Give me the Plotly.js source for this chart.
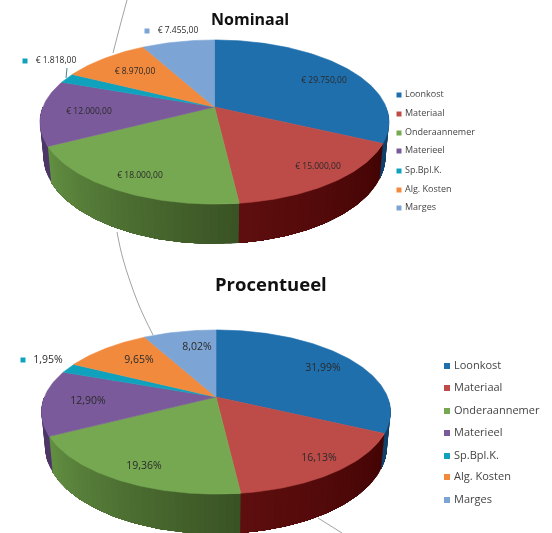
<!DOCTYPE html>
<html>
<head>
<meta charset="utf-8">
<script src="https://cdn.plot.ly/plotly-3.0.1.min.js"></script>
<style>
html,body{margin:0;padding:0;background:#fff}
#chart{width:552px;height:533px;filter:blur(0.45px)}
</style>
</head>
<body>
<div id="chart"></div>
<script>
// ---- data ----
const categories = ["Loonkost","Materiaal","Onderaannemer","Materieel","Sp.Bpl.K.","Alg. Kosten","Marges"];
const nominalValues = [29750,15000,18000,12000,1818,8970,7455];
const percentValues = [31.99,16.13,19.36,12.90,1.95,9.65,8.02];
const nominalLabels = ["€ 29.750,00","€ 15.000,00","€ 18.000,00","€ 12.000,00","€ 1.818,00","€ 8.970,00","€ 7.455,00"];
const percentLabels = ["31,99%","16,13%","19,36%","12,90%","1,95%","9,65%","8,02%"];

// ---- styles ----
const topColors = ["#1f6fad","#bd4b48","#76a851","#7a5a9b","#10a2bd","#f28a3e","#7ca4d4"];
const wallStart = ["#12406a","#430404","#3a5324","#4d3768","#0b6a7c","#a65c28","#50719a"];
const wallEnd   = ["#12406a","#5e0e0e","#628f42","#4d3768","#0b6a7c","#a65c28","#50719a"];

// ---- layout of the two pies ----
const nominalPie = {x0:214.5, y0:107, depth:33};
const percentPie = {x0:216,   y0:397, depth:33};
const nominalLabelAt = [[324,81],[318,167],[140,176],[89,112],[56,61],[135,72],[178,31]];
const percentLabelAt = [[323,368],[319,458],[144,466],[88,401],[48,360],[139,360],[197,347]];
const nominalOutsideKeys = [[25,61,4],[147,31,6]];
const percentOutsideKeys = [[23,360,4]];
const nominalLegend = {x:399, tx:405, y:[95,114,133,151,171,190,208], size:9};
const percentLegend = {x:447, tx:454, y:[366,388,411,433,456,477,500], size:11};
const backgroundCurves = [
  {x:[127,120,113], y:[0,26,53]},
  {x:[117,123,138,153], y:[232,259,303,335]},
  {x:[318,342], y:[518,533]}
];
const leader = {x:[67,66], y:[68,78]};

// perspective projection of the tilted disc
const R = 171.6, A = 79.3, K = 0.183;
function project(p, deg, wall){
  const t = deg*Math.PI/180, u = Math.sin(t), v = Math.cos(t), w = 1 + K*v;
  if(wall) return [p.x0 + 0.98*R*u/w, p.y0 + p.depth - 1.07*A*v/w];
  return [p.x0 + R*u/w, p.y0 - A*v/w];
}
function lerpColor(a,b,f){
  const pa=[1,3,5].map(i=>parseInt(a.substr(i,2),16)), pb=[1,3,5].map(i=>parseInt(b.substr(i,2),16));
  return "rgb("+pa.map((c,i)=>Math.round(c+(pb[i]-c)*f)).join(",")+")";
}
function poly(xs,ys,color,edge){
  return {type:"scatter",mode:"lines",x:xs,y:ys,fill:"toself",fillcolor:color,
          line:{color:color,width:edge},hoverinfo:"skip",showlegend:false};
}
function pieTraces(p, values){
  const total = values.reduce((a,b)=>a+b,0);
  const walls=[], faces=[];
  let acc=0;
  values.forEach((val,i)=>{
    const a0=acc/total*360, a1=(acc+val)/total*360; acc+=val;
    // outer wall: each strip reaches to the slice end, the next one paints over it, so no seams
    const s=Math.max(a0,90), e=Math.min(a1,270);
    if(e>s){
      const n=Math.max(1,Math.ceil((e-s)/2));
      for(let k=0;k<n;k++){
        const b0=s+(e-s)*k/n, xs=[], ys=[];
        const m=Math.max(2,Math.ceil(e-b0));
        for(let d=0;d<=m;d++){const q=project(p,b0+(e-b0)*d/m,false);xs.push(q[0]);ys.push(q[1]);}
        for(let d=m;d>=0;d--){const q=project(p,b0+(e-b0)*d/m,true);xs.push(q[0]);ys.push(q[1]);}
        xs.push(xs[0]);ys.push(ys[0]);
        walls.push(poly(xs,ys,lerpColor(wallStart[i],wallEnd[i],n>1?k/(n-1):0),0));
      }
    }
    // top face
    const xs=[p.x0], ys=[p.y0], steps=Math.max(2,Math.ceil(a1-a0));
    for(let k=0;k<=steps;k++){const q=project(p,a0+(a1-a0)*k/steps,false);xs.push(q[0]);ys.push(q[1]);}
    xs.push(p.x0);ys.push(p.y0);
    faces.push(poly(xs,ys,topColors[i],0.6));
  });
  return walls.concat(faces);
}
function textTrace(labels, at, size){
  return {type:"scatter",mode:"text",x:at.map(a=>a[0]),y:at.map(a=>a[1]),text:labels,
          textposition:"middle center",textfont:{family:"Open Sans, Noto Sans, sans-serif",size:size,color:"#2a2a2a"},
          hoverinfo:"skip",showlegend:false};
}
function legendTrace(l){
  return {type:"scatter",mode:"markers",x:l.y.map(()=>l.x),y:l.y,
          marker:{symbol:"square",size:l.size>9?6:5,color:topColors},hoverinfo:"skip",showlegend:false};
}
function legendText(l){
  return {type:"scatter",mode:"text",x:l.y.map(()=>l.tx),y:l.y,text:categories,textposition:"middle right",
          textfont:{family:"Open Sans, Noto Sans, sans-serif",size:l.size,color:"#444"},hoverinfo:"skip",showlegend:false};
}
function outsideKeys(k){
  return {type:"scatter",mode:"markers",x:k.map(a=>a[0]),y:k.map(a=>a[1]),
          marker:{symbol:"square",size:5,color:k.map(a=>topColors[a[2]])},hoverinfo:"skip",showlegend:false};
}
const curves = backgroundCurves.map(c=>({type:"scatter",mode:"lines",x:c.x,y:c.y,
   line:{color:"#8a8a8a",width:0.8,shape:"spline"},hoverinfo:"skip",showlegend:false}));

const traces = [].concat(
  curves,
  pieTraces(nominalPie, nominalValues),
  pieTraces(percentPie, percentValues),
  [{type:"scatter",mode:"lines",x:leader.x,y:leader.y,line:{color:"#1c5f70",width:0.8},hoverinfo:"skip",showlegend:false}],
  [textTrace(nominalLabels,nominalLabelAt,8.5), textTrace(percentLabels,percentLabelAt,10.5)],
  [legendTrace(nominalLegend),legendText(nominalLegend),legendTrace(percentLegend),legendText(percentLegend)],
  [outsideKeys(nominalOutsideKeys),outsideKeys(percentOutsideKeys)]
);

const hidden = {visible:false,fixedrange:true};
const layout = {
  width:552,height:533,margin:{l:0,r:0,t:0,b:0},
  paper_bgcolor:"#fff",plot_bgcolor:"#fff",showlegend:false,
  xaxis:Object.assign({range:[0,552],domain:[0,1]},hidden),
  yaxis:Object.assign({range:[533,0],domain:[0,1]},hidden),
  annotations:[
    {text:"<b>Nominaal</b>",x:250,y:19,xref:"x",yref:"y",showarrow:false,
     font:{family:"Open Sans, Noto Sans, sans-serif",size:16,color:"#111"}},
    {text:"<b>Procentueel</b>",x:271,y:283,xref:"x",yref:"y",showarrow:false,
     font:{family:"Open Sans, Noto Sans, sans-serif",size:18.5,color:"#111"}}
  ]
};
Plotly.newPlot("chart",traces,layout,{displayModeBar:false,staticPlot:true});
</script>
</body>
</html>
